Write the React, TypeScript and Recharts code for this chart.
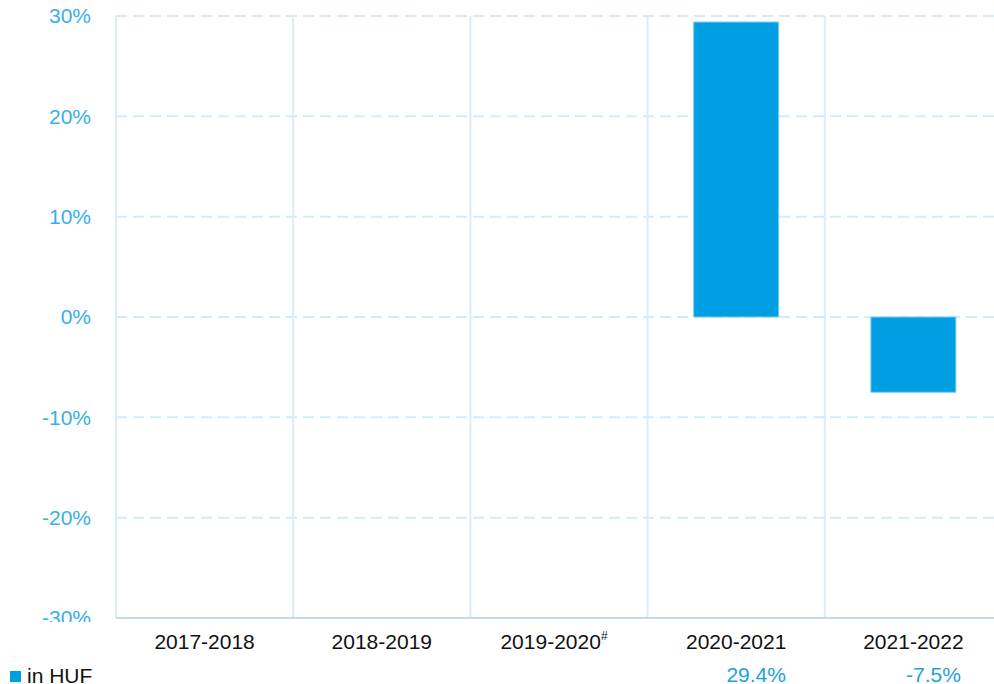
import React from 'react'
import {
	Bar,
	BarChart,
	CartesianGrid,
	Legend,
	XAxis,
	YAxis,
} from 'recharts'

// periods shown on the x axis, with the footnote mark some of them carry
const periods = ['2017-2018', '2018-2019', '2019-2020', '2020-2021', '2021-2022']
const footnotes = ['', '', '#', '', '']
// year-on-year change in HUF, percent (no value for the first three periods)
const changeHuf: (number | null)[] = [null, null, null, 29.4, -7.5]
const yTicks = [-30, -20, -10, 0, 10, 20, 30]
const seriesName = 'in HUF'

const data = periods.map((period, i) => ({
	period,
	note: footnotes[i],
	huf: changeHuf[i],
}))

const FONT = "Arial, 'Liberation Sans', sans-serif"
const BLUE = '#009fe3'

const YTick = (props: any) => {
	const { x, y, payload, index } = props
	const id = `yclip-${index}`
	return (
		<g>
			<defs>
				<clipPath id={id}>
					<rect x={0} y={0} width={400} height={622} />
				</clipPath>
			</defs>
			<text
				x={x}
				y={y}
				dy='0.35em'
				textAnchor='end'
				fill='#3aaee8'
				fontSize={21}
				fontFamily={FONT}
				clipPath={`url(#${id})`}
			>
				{payload.value}%
			</text>
		</g>
	)
}

const XTick = (props: any) => {
	const { x, y, payload } = props
	const i = periods.indexOf(payload.value)
	const note = footnotes[i]
	const v = changeHuf[i]
	return (
		<g>
			<text
				x={note ? x - 5 : x}
				y={y + 31}
				textAnchor='middle'
				fill='#111'
				fontSize={21}
				fontFamily={FONT}
			>
				<tspan>{payload.value}</tspan>
				{note ? (
					<tspan fontSize={12} dy={-9}>
						{note}
					</tspan>
				) : null}
			</text>
			{v != null ? (
				<text
					x={x + 20}
					y={y + 64}
					textAnchor='middle'
					fill='#1ba1e2'
					fontSize={21}
					fontFamily={FONT}
				>
					{v.toFixed(1)}%
				</text>
			) : null}
		</g>
	)
}

const LegendBox = () => (
	<div
		style={{
			display: 'flex',
			alignItems: 'center',
			fontFamily: FONT,
			fontSize: 21,
			lineHeight: '24px',
			color: '#111',
		}}
	>
		<span
			style={{
				display: 'inline-block',
				width: 11,
				height: 11,
				background: BLUE,
				marginLeft: 10,
				marginRight: 6,
			}}
		/>
		{seriesName}
	</div>
)

export default function App() {
	return (
		<div
			style={{
				position: 'absolute',
				left: 0,
				top: 0,
				width: 994,
				height: 684,
				overflow: 'hidden',
				background: '#fff',
			}}
		>
			<BarChart
				width={1010}
				height={684}
				data={data}
				margin={{ top: 16, right: 8, bottom: 0, left: 0 }}
				barCategoryGap='26%'
			>
				<CartesianGrid
					vertical={false}
					stroke='#d3ebf8'
					strokeWidth={2}
					strokeDasharray='11 6'
				/>
				<CartesianGrid
					horizontal={false}
					stroke='#daedf8'
					strokeWidth={2}
					verticalCoordinatesGenerator={({ offset }: any) =>
						periods.map((_, i) => offset.left + (i * offset.width) / periods.length)
					}
				/>
				<XAxis
					dataKey='period'
					height={66}
					tickLine={false}
					tickSize={0}
					tickMargin={0}
					axisLine={{ stroke: '#c6daee', strokeWidth: 2 }}
					tick={<XTick />}
					interval={0}
				/>
				<YAxis
					width={116}
					domain={[-30, 30]}
					ticks={yTicks}
					axisLine={false}
					tickLine={false}
					tickSize={0}
					tickMargin={25}
					tick={<YTick />}
					interval={0}
				/>
				<Legend
					layout='horizontal'
					verticalAlign='middle'
					align='center'
					content={<LegendBox />}
					wrapperStyle={{ left: 0, top: 664, width: 200 }}
				/>
				<Bar
					dataKey='huf'
					name={seriesName}
					fill={BLUE}
					stroke='#7ccdf1'
					strokeWidth={1}
					isAnimationActive={false}
				/>
			</BarChart>
		</div>
	)
}
